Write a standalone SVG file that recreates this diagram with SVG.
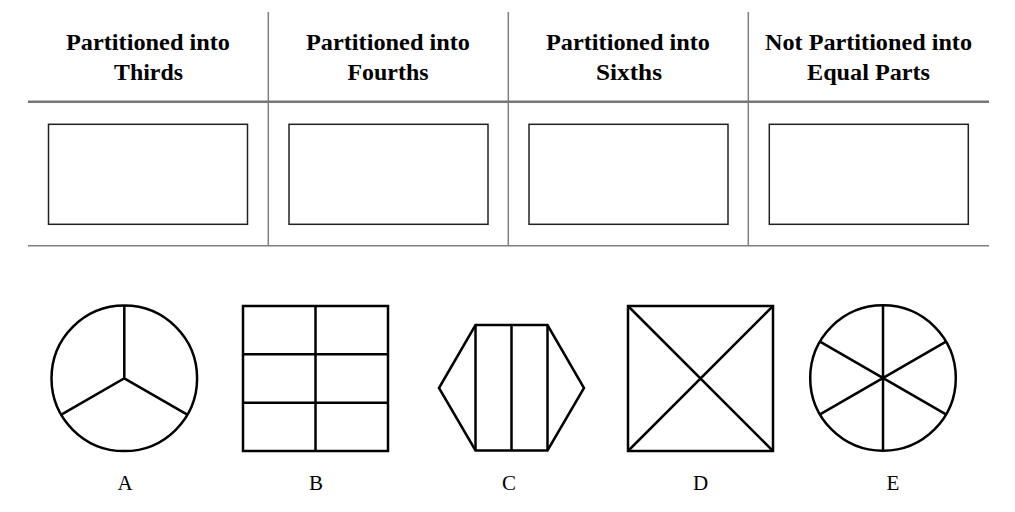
<svg xmlns="http://www.w3.org/2000/svg" width="1015" height="512" viewBox="0 0 1015 512">
<style>
.hdr{font-family:"Liberation Serif","Times New Roman",serif;font-weight:bold;font-size:22.5px;fill:#000;text-anchor:middle}
.lbl{font-family:"Liberation Serif","Times New Roman",serif;font-size:21px;fill:#000;text-anchor:middle}
.grid{stroke:#808080;stroke-width:1.5;fill:none}
.box{stroke:#222;stroke-width:1.5;fill:#fff}
.shp{stroke:#000;stroke-width:2.5;fill:none;stroke-linejoin:miter}
</style>
<rect width="1015" height="512" fill="#fff"/>
<g id="table">
<line class="grid" x1="268.3" y1="12" x2="268.3" y2="246"/>
<line class="grid" x1="508.3" y1="12" x2="508.3" y2="246"/>
<line class="grid" x1="748.3" y1="12" x2="748.3" y2="246"/>
<line x1="28" y1="101.8" x2="989" y2="101.8" stroke="#777" stroke-width="2.6"/>
<line class="grid" x1="28" y1="245.8" x2="989" y2="245.8"/>
</g>
<g id="col1">
<text class="hdr" x="148" y="50" textLength="164" lengthAdjust="spacingAndGlyphs">Partitioned into</text>
<text class="hdr" x="148.5" y="80" textLength="69" lengthAdjust="spacingAndGlyphs">Thirds</text>
<rect class="box" x="48.5" y="124.3" width="199" height="100"/>
</g>
<g id="col2">
<text class="hdr" x="388" y="50" textLength="164" lengthAdjust="spacingAndGlyphs">Partitioned into</text>
<text class="hdr" x="388" y="80" textLength="81" lengthAdjust="spacingAndGlyphs">Fourths</text>
<rect class="box" x="289" y="124.3" width="199" height="100"/>
</g>
<g id="col3">
<text class="hdr" x="628" y="50" textLength="164" lengthAdjust="spacingAndGlyphs">Partitioned into</text>
<text class="hdr" x="629" y="80" textLength="66" lengthAdjust="spacingAndGlyphs">Sixths</text>
<rect class="box" x="529" y="124.3" width="199" height="100"/>
</g>
<g id="col4">
<text class="hdr" x="868.5" y="50" textLength="207" lengthAdjust="spacingAndGlyphs">Not Partitioned into</text>
<text class="hdr" x="868.5" y="80" textLength="123" lengthAdjust="spacingAndGlyphs">Equal Parts</text>
<rect class="box" x="769.3" y="124.3" width="199" height="100"/>
</g>
<g id="shapeA">
<circle class="shp" cx="124.3" cy="378.3" r="72.8"/>
<path class="shp" d="M124.3 305.5 V378.3 L61.3 414.7 M124.3 378.3 L187.3 414.7"/>
<text class="lbl" x="125" y="490">A</text>
</g>
<g id="shapeB">
<rect class="shp" x="243" y="306" width="145" height="145"/>
<path class="shp" d="M315.5 306 V451 M243 354.3 H388 M243 402.7 H388"/>
<text class="lbl" x="316" y="490">B</text>
</g>
<g id="shapeC">
<polygon class="shp" points="439,388 475.5,325 547.5,325 584,388 547.5,450.5 475.5,450.5"/>
<path class="shp" d="M475.5 325 V450.5 M511.5 325 V450.5 M547.5 325 V450.5"/>
<text class="lbl" x="509" y="490">C</text>
</g>
<g id="shapeD">
<rect class="shp" x="628" y="306" width="145" height="145"/>
<path class="shp" d="M628 306 L773 451 M773 306 L628 451"/>
<text class="lbl" x="700.5" y="490">D</text>
</g>
<g id="shapeE">
<circle class="shp" cx="883" cy="378" r="72.8"/>
<path class="shp" d="M883 305.2 V450.8 M820 341.6 L946 414.4 M820 414.4 L946 341.6"/>
<text class="lbl" x="893" y="490">E</text>
</g>
</svg>
